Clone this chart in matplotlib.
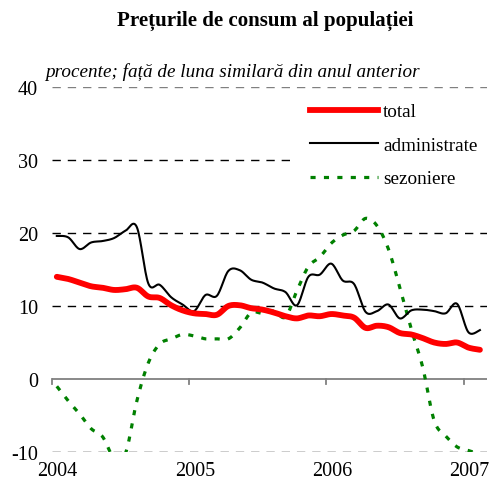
import numpy as np
import matplotlib
matplotlib.use("Agg")
import matplotlib.pyplot as plt
from matplotlib.lines import Line2D
from matplotlib.patches import Rectangle

# ---- data (monthly, Jan 2004 .. Feb 2007) ----
months_from_2004 = list(range(38))
total = [14.0, 13.7, 13.2, 12.7, 12.5, 12.2, 12.3, 12.5, 11.3, 11.1, 10.1, 9.4,
         9.0, 8.9, 8.8, 10.0, 10.1, 9.7, 9.5, 9.1, 8.6, 8.3, 8.7, 8.6,
         8.9, 8.7, 8.4, 7.0, 7.3, 7.1, 6.3, 6.1, 5.6, 5.0, 4.8, 5.0,
         4.3, 4.0]
administrate = [19.6, 19.4, 17.8, 18.7, 18.9, 19.3, 20.3, 20.8, 13.1, 12.9, 11.2, 10.2,
                9.3, 11.5, 11.4, 14.8, 14.9, 13.6, 13.2, 12.4, 11.9, 10.1, 14.0, 14.3,
                15.8, 13.5, 13.0, 9.2, 9.3, 10.2, 8.3, 9.4, 9.5, 9.3, 9.0, 10.3,
                6.4, 6.7]
sezoniere = [-1.0, -3.0, -4.8, -6.8, -7.9, -10.8, -10.2, -3.0, 2.2, 4.8, 5.5, 6.1,
             5.9, 5.5, 5.5, 5.5, 7.0, 9.1, 9.0, 9.3, 8.5, 12.1, 15.4, 16.7,
             18.6, 19.7, 20.3, 22.0, 21.0, 17.8, 12.5, 6.8, 1.6, -5.7, -7.8, -9.3,
             -9.8, -10.3]
year_ticks = [2004, 2005, 2006, 2007]
y_ticks = [-10, 0, 10, 20, 30, 40]
series_labels = ["total", "administrate", "sezoniere"]
title = "Prețurile de consum al populației"
subtitle = "procente; față de luna similară din anul anterior"


def smooth(x, y, n=16):
    P = np.column_stack([x, y]).astype(float)
    P = np.vstack([P[0], P, P[-1]])
    out = []
    t = np.linspace(0, 1, n, endpoint=False)[:, None]
    for i in range(1, len(P) - 2):
        p0, p1, p2, p3 = P[i - 1], P[i], P[i + 1], P[i + 2]
        c1 = p1 + (p2 - p0) / 6.0
        c2 = p2 - (p3 - p1) / 6.0
        b = ((1 - t) ** 3) * p1 + 3 * ((1 - t) ** 2) * t * c1 + 3 * (1 - t) * t ** 2 * c2 + t ** 3 * p2
        out.append(b)
    out.append(P[-2][None, :])
    out = np.vstack(out)
    return out[:, 0], out[:, 1]


plt.rcParams['font.family'] = ['Liberation Serif', 'DejaVu Serif']

W, H = 491, 485
fig = plt.figure(figsize=(W / 100, H / 100), dpi=100)
ax = fig.add_axes([52 / W, 1 - 453 / H, (487 - 52) / W, (453 - 88) / H])

x = 2004 + (np.array(months_from_2004) + 0.42) / 12.0

# gridlines
for yv in y_ticks:
    if yv == 0:
        continue
    col = '#808080' if yv == 40 else 'black'
    ax.axhline(yv, color=col, lw=1.0, ls=(0, (6, 5)), zorder=1)
ax.axhline(0, color='#808080', lw=1.3, zorder=2)

# white legend background box
fig.patches.append(Rectangle((290 / W, 1 - 198 / H), (W - 290) / W, (198 - 93) / H,
                             transform=fig.transFigure, facecolor='white',
                             edgecolor='none', zorder=1.5))

xs, ys = smooth(x, sezoniere)
ax.plot(xs, ys, color='#008000', lw=2.3, ls=(0, (1.6, 2.6)), zorder=3,
        dash_capstyle='butt')
xs, ys = smooth(x, administrate)
ax.plot(xs, ys, color='black', lw=1.5, zorder=4)
xs, ys = smooth(x, total)
ax.plot(xs, ys, color='#ff0000', lw=4.2, zorder=5, solid_capstyle='round')

# year ticks on zero line
for yr in year_ticks:
    ax.plot([yr, yr], [0, -0.75], color='#808080', lw=1.3, zorder=2, clip_on=False)
    ax.text(yr + 0.5 / 12, -11.2, str(yr), ha='center', va='top', fontsize=14.5)

ax.set_xlim(2004, 2007.17)
ax.set_ylim(-10, 40)
ax.set_yticks(y_ticks)
ax.set_yticklabels([str(v) for v in y_ticks], fontsize=14.5)
ax.tick_params(axis='y', length=0, pad=10)
ax.set_xticks([])
for s in ax.spines.values():
    s.set_visible(False)

leg_handles = [
    Line2D([], [], color='#ff0000', lw=4.2),
    Line2D([], [], color='black', lw=1.5),
    Line2D([], [], color='#008000', lw=2.3, ls=(0, (1.6, 2.6))),
]
leg = fig.legend(leg_handles, series_labels, loc='upper left',
                 bbox_to_anchor=(310 / W, 1 - 104 / H), bbox_transform=fig.transFigure,
                 frameon=False, fontsize=13.8, handlelength=3.55, handletextpad=0.26,
                 labelspacing=0.84, borderpad=0, borderaxespad=0)
leg.set_zorder(6)

fig.text(265 / W, 1 - 21 / H, title, ha='center', va='center', fontsize=15.1, fontweight='bold')
fig.text(45 / W, 1 - 72 / H, subtitle, ha='left', va='center', fontsize=13.8, style='italic')

fig.savefig('out.png', dpi=100)
